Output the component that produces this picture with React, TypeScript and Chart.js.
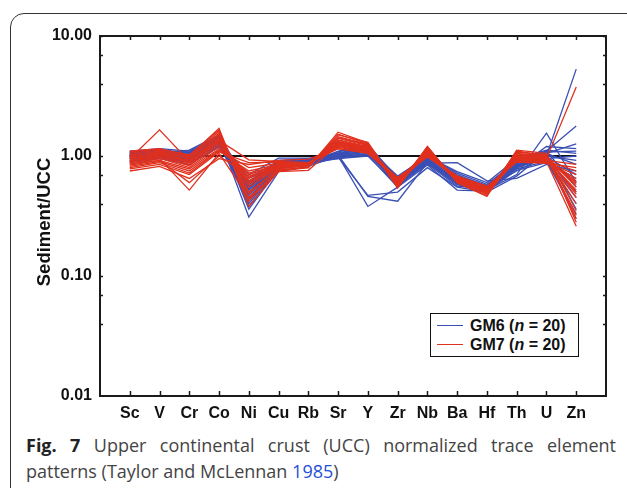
import { useEffect, useRef } from "react";
import { Chart, registerables } from "chart.js";

Chart.register(...registerables);

// Trace elements, in plotting order
const elements = ["Sc", "V", "Cr", "Co", "Ni", "Cu", "Rb", "Sr", "Y", "Zr", "Nb", "Ba", "Hf", "Th", "U", "Zn"];

// Labelled decades and the short inner tick marks on the y axis
const yTickValues = [0.01, 0.1, 1, 10];
const yMinorTicks = [10, 7, 4, 1, 0.7, 0.4, 0.1, 0.07, 0.04];

// GM6 samples, sediment / UCC ratios (Sc … Zn)
const gm6Samples: number[][] = [
  [1.05, 1.10, 1.08, 1.45, 0.31, 0.74, 0.82, 1.00, 0.38, 0.55, 0.95, 0.60, 0.55, 0.75, 1.00, 5.30],
  [0.98, 1.05, 1.12, 1.50, 0.36, 0.78, 0.86, 1.02, 0.46, 0.42, 0.88, 0.58, 0.52, 0.70, 1.55, 0.60],
  [1.02, 1.08, 1.00, 1.40, 0.42, 0.82, 0.88, 0.98, 0.47, 0.50, 0.80, 0.55, 0.50, 0.68, 1.10, 1.78],
  [0.95, 1.00, 0.95, 1.30, 0.45, 0.84, 0.90, 1.05, 1.20, 0.60, 0.98, 0.70, 0.56, 0.88, 1.05, 1.26],
  [1.08, 1.12, 1.05, 1.38, 0.48, 0.86, 0.86, 1.10, 1.25, 0.65, 1.00, 0.72, 0.58, 0.90, 1.08, 1.10],
  [0.92, 0.98, 0.90, 1.25, 0.52, 0.85, 0.92, 0.95, 1.05, 0.62, 0.85, 0.65, 0.55, 0.85, 0.95, 1.00],
  [1.00, 1.05, 0.98, 1.35, 0.55, 0.88, 0.90, 1.00, 1.10, 0.58, 0.90, 0.62, 0.54, 0.82, 1.00, 0.92],
  [0.88, 0.95, 0.85, 1.20, 0.58, 0.90, 0.94, 0.98, 1.15, 0.60, 0.92, 0.60, 0.52, 0.80, 0.98, 0.70],
  [1.10, 1.15, 1.10, 1.45, 0.60, 0.92, 0.95, 1.05, 1.12, 0.66, 1.02, 0.68, 0.57, 0.92, 1.10, 0.55],
  [0.96, 1.02, 0.97, 1.32, 0.62, 0.87, 0.89, 1.00, 1.08, 0.56, 0.88, 0.58, 0.50, 0.84, 0.92, 0.40],
  [1.03, 1.08, 1.02, 1.40, 0.50, 0.86, 0.90, 1.02, 1.18, 0.63, 0.95, 0.64, 0.55, 0.86, 1.02, 0.36],
  [0.90, 0.98, 0.92, 1.22, 0.44, 0.82, 0.87, 0.95, 1.00, 0.57, 0.86, 0.56, 0.53, 0.78, 0.90, 0.33],
  [1.00, 1.04, 0.96, 1.28, 0.47, 0.84, 0.88, 0.99, 1.05, 0.60, 0.90, 0.60, 0.54, 0.80, 0.96, 0.30],
  [1.06, 1.10, 1.06, 1.42, 0.53, 0.89, 0.92, 1.08, 1.22, 0.64, 0.97, 0.66, 0.56, 0.88, 1.05, 0.85],
  [0.94, 1.00, 0.94, 1.30, 0.40, 0.80, 0.85, 0.97, 1.02, 0.55, 0.84, 0.52, 0.51, 0.76, 0.88, 0.65],
  [1.04, 1.07, 1.03, 1.36, 0.66, 0.90, 0.93, 1.03, 1.15, 0.68, 0.99, 0.74, 0.60, 0.95, 1.12, 1.05],
  [0.98, 1.03, 0.99, 1.33, 0.56, 0.87, 0.90, 1.01, 1.10, 0.61, 0.93, 0.63, 0.55, 0.83, 1.00, 0.45],
  [1.01, 1.06, 1.01, 1.37, 0.50, 0.85, 0.89, 1.03, 1.08, 0.59, 0.91, 0.61, 0.53, 0.81, 0.97, 0.50],
  [0.91, 0.96, 0.88, 1.18, 0.70, 0.96, 0.96, 0.96, 1.04, 0.62, 0.87, 0.88, 0.62, 0.65, 0.85, 0.75],
  [1.07, 1.12, 1.07, 1.44, 0.38, 0.79, 0.84, 1.06, 1.16, 0.58, 0.94, 0.59, 0.52, 0.79, 1.20, 1.15],
];

// GM7 samples, sediment / UCC ratios (Sc … Zn)
const gm7Samples: number[][] = [
  [0.95, 1.65, 0.90, 1.40, 0.60, 0.82, 0.84, 1.30, 1.20, 0.62, 1.10, 0.65, 0.50, 1.00, 0.95, 3.76],
  [0.85, 0.95, 0.52, 1.05, 0.45, 0.74, 0.76, 1.25, 1.15, 0.58, 1.05, 0.62, 0.48, 0.95, 0.90, 0.26],
  [1.10, 1.15, 1.00, 1.70, 0.38, 0.75, 0.80, 1.58, 1.28, 0.55, 1.20, 0.60, 0.47, 1.10, 1.00, 0.30],
  [0.90, 1.05, 0.88, 1.35, 0.93, 0.90, 0.88, 1.20, 1.10, 0.66, 1.00, 0.68, 0.55, 0.92, 0.92, 0.85],
  [0.75, 0.82, 0.65, 0.95, 0.85, 0.92, 0.94, 1.15, 1.05, 0.64, 0.98, 0.66, 0.54, 0.90, 0.88, 0.70],
  [0.80, 0.88, 0.72, 1.10, 0.75, 0.85, 0.85, 1.22, 1.12, 0.60, 1.02, 0.64, 0.52, 0.94, 0.94, 0.60],
  [1.00, 1.10, 0.95, 1.55, 0.50, 0.78, 0.83, 1.45, 1.25, 0.57, 1.15, 0.62, 0.50, 1.05, 1.00, 0.55],
  [0.92, 1.00, 0.85, 1.30, 0.65, 0.83, 0.86, 1.35, 1.18, 0.63, 1.08, 0.65, 0.52, 0.98, 0.96, 0.50],
  [0.88, 0.96, 0.80, 1.20, 0.70, 0.84, 0.87, 1.28, 1.14, 0.62, 1.05, 0.63, 0.51, 0.96, 0.93, 0.45],
  [1.05, 1.12, 0.98, 1.60, 0.42, 0.76, 0.81, 1.50, 1.30, 0.56, 1.18, 0.61, 0.49, 1.08, 1.02, 0.35],
  [0.82, 0.90, 0.75, 1.12, 0.80, 0.87, 0.86, 1.18, 1.08, 0.65, 1.00, 0.67, 0.53, 0.91, 0.90, 0.65],
  [0.98, 1.06, 0.92, 1.45, 0.55, 0.80, 0.84, 1.40, 1.22, 0.60, 1.12, 0.64, 0.51, 1.02, 0.98, 0.40],
  [0.86, 0.92, 0.60, 1.00, 0.68, 0.82, 0.85, 1.24, 1.10, 0.61, 1.03, 0.66, 0.52, 0.93, 0.91, 0.75],
  [1.02, 1.08, 0.96, 1.50, 0.48, 0.79, 0.83, 1.42, 1.24, 0.59, 1.14, 0.63, 0.50, 1.04, 0.99, 0.32],
  [0.94, 1.02, 0.88, 1.32, 0.62, 0.83, 0.85, 1.32, 1.16, 0.62, 1.06, 0.64, 0.51, 0.97, 0.95, 0.58],
  [0.78, 0.85, 0.70, 1.08, 0.88, 0.89, 0.87, 1.15, 1.06, 0.66, 0.99, 0.68, 0.56, 0.89, 0.87, 0.80],
  [0.96, 1.04, 0.90, 1.38, 0.58, 0.81, 0.84, 1.36, 1.20, 0.60, 1.10, 0.62, 0.50, 1.00, 0.97, 0.48],
  [0.84, 0.92, 0.78, 1.15, 0.72, 0.84, 0.86, 1.26, 1.12, 0.63, 1.04, 0.65, 0.53, 0.95, 0.92, 0.62],
  [1.08, 1.14, 1.02, 1.65, 0.44, 0.77, 0.80, 1.52, 1.26, 0.54, 1.20, 0.60, 0.46, 1.12, 1.05, 0.28],
  [0.90, 0.98, 0.83, 1.25, 0.66, 0.83, 0.85, 1.30, 1.15, 0.62, 1.06, 0.64, 0.52, 0.97, 0.95, 0.52],
];

// UCC reference level
const uccLevel = 1;

const GM6_COLOR = "#3a4fb5";
const GM7_COLOR = "#e0301e";
const AXIS_FONT = "'Liberation Sans', Arial, sans-serif";

const toPoints = (row: number[]) => row.map((v, i) => ({ x: i, y: v }));

// Box, inward ticks and rotated axis title
const framePlugin = {
  id: "frame",
  afterDatasetsDraw(chart: any) {
    const { ctx, chartArea: a, scales } = chart;
    const xs = scales.x;
    const ys = scales.y;
    ctx.save();
    ctx.strokeStyle = "#1a1a1a";
    ctx.lineWidth = 2;
    ctx.strokeRect(a.left, a.top, a.right - a.left, a.bottom - a.top);
    ctx.lineWidth = 1.5;
    ctx.beginPath();
    elements.forEach((_, i) => {
      const px = Math.round(xs.getPixelForValue(i)) + 0.5;
      ctx.moveTo(px, a.top);
      ctx.lineTo(px, a.top + 4);
      ctx.moveTo(px, a.bottom);
      ctx.lineTo(px, a.bottom - 5);
    });
    yMinorTicks.forEach((v) => {
      const py = Math.round(ys.getPixelForValue(v)) + 0.5;
      ctx.moveTo(a.left, py);
      ctx.lineTo(a.left + 3, py);
      ctx.moveTo(a.right, py);
      ctx.lineTo(a.right - 3, py);
    });
    ctx.stroke();

    ctx.translate(50, 222);
    ctx.rotate(-Math.PI / 2);
    ctx.font = `bold 18.5px ${AXIS_FONT}`;
    ctx.fillStyle = "#111";
    ctx.textAlign = "center";
    ctx.textBaseline = "alphabetic";
    ctx.fillText("Sediment/UCC", 0, 0);
    ctx.restore();
  },
};

export default function App() {
  const canvasRef = useRef<HTMLCanvasElement | null>(null);

  useEffect(() => {
    const canvas = canvasRef.current;
    if (!canvas) return;

    const lineStyle = { pointRadius: 0, borderWidth: 1.3, tension: 0, fill: false };
    const datasets: any[] = [
      ...gm7Samples.map((row, k) => ({
        label: `GM7-${k + 1}`,
        data: toPoints(row),
        borderColor: GM7_COLOR,
        ...lineStyle,
      })),
      ...gm6Samples.map((row, k) => ({
        label: `GM6-${k + 1}`,
        data: toPoints(row),
        borderColor: GM6_COLOR,
        ...lineStyle,
      })),
      {
        label: "UCC",
        data: [
          { x: 0, y: uccLevel },
          { x: elements.length - 1, y: uccLevel },
        ],
        borderColor: "#111",
        borderWidth: 2,
        pointRadius: 0,
      },
    ];

    const chart = new Chart(canvas, {
      type: "line",
      data: { datasets },
      options: {
        animation: false,
        responsive: false,
        devicePixelRatio: 1,
        layout: { padding: { left: 0, top: 36, right: 21, bottom: 0 } },
        plugins: { legend: { display: false }, tooltip: { enabled: false } },
        scales: {
          x: {
            type: "linear",
            min: -1,
            max: elements.length,
            grid: { display: false, drawTicks: false },
            border: { display: false },
            afterBuildTicks: (s: any) => {
              s.ticks = elements.map((_, i) => ({ value: i }));
            },
            afterFit: (s: any) => {
              s.height = 34;
            },
            ticks: {
              autoSkip: false,
              maxRotation: 0,
              padding: 8,
              color: "#111",
              font: { family: AXIS_FONT, size: 16, weight: "bold" },
              callback: (v: any) => elements[v] ?? "",
            },
          },
          y: {
            type: "logarithmic",
            min: 0.01,
            max: 10,
            grid: { display: false, drawTicks: false },
            border: { display: false },
            afterBuildTicks: (s: any) => {
              s.ticks = yTickValues.map((v) => ({ value: v }));
            },
            afterFit: (s: any) => {
              s.width = 100;
            },
            ticks: {
              padding: 8,
              color: "#111",
              font: { family: AXIS_FONT, size: 16, weight: "bold" },
              callback: (v: any) => Number(v).toFixed(2),
            },
          },
        },
      },
      plugins: [framePlugin],
    });

    return () => chart.destroy();
  }, []);

  const legendText = { fontFamily: AXIS_FONT, fontWeight: "bold" as const, fontSize: 16, color: "#111", lineHeight: "20px" };

  return (
    <div style={{ position: "absolute", left: 0, top: 0, width: 627, height: 488, overflow: "hidden", background: "#fff" }}>
      <div
        style={{
          position: "absolute",
          left: 10,
          top: 13,
          width: 640,
          height: 520,
          border: "1.5px solid #333",
          borderRadius: 14,
          boxSizing: "border-box",
        }}
      />
      <canvas ref={canvasRef} width={627} height={430} style={{ position: "absolute", left: 0, top: 0 }} />
      <div
        style={{
          position: "absolute",
          left: 430,
          top: 313,
          width: 149,
          height: 44,
          border: "1.5px solid #111",
          boxSizing: "border-box",
          background: "#fff",
          padding: "2px 0 0 6px",
        }}
      >
        {[
          ["GM6", GM6_COLOR],
          ["GM7", GM7_COLOR],
        ].map(([name, color]) => (
          <div key={name} style={{ display: "flex", alignItems: "center", height: 19 }}>
            <span style={{ display: "inline-block", width: 26, height: 0, borderTop: `1.3px solid ${color}`, marginRight: 7 }} />
            <span style={legendText}>
              {name} (<i>n</i> = 20)
            </span>
          </div>
        ))}
      </div>
      <div
        style={{
          position: "absolute",
          left: 26,
          top: 432,
          width: 590,
          fontFamily: "'Open Sans', 'Noto Sans', sans-serif",
          fontSize: 18,
          lineHeight: "26px",
          color: "#444",
        }}
      >
        <div style={{ textAlign: "justify", textAlignLast: "justify" }}>
          <b style={{ color: "#222" }}>Fig. 7</b> Upper continental crust (UCC) normalized trace element
        </div>
        <div>
          patterns (Taylor and McLennan <span style={{ color: "#1f4fd6" }}>1985</span>)
        </div>
      </div>
    </div>
  );
}
